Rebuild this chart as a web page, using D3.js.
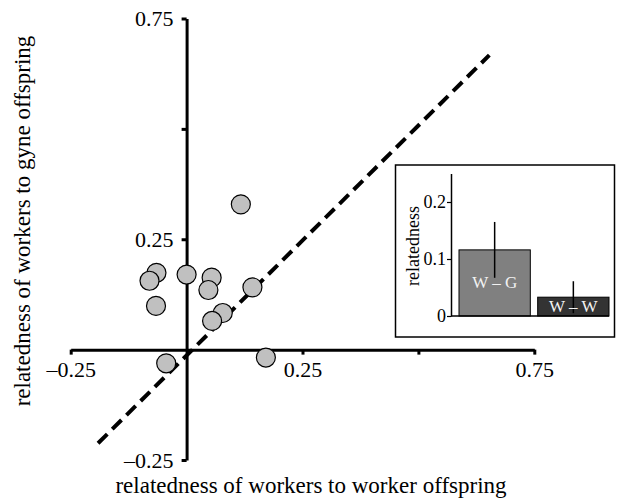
<!DOCTYPE html>
<html><head><meta charset="utf-8">
<script src="https://cdn.jsdelivr.net/npm/d3@7"></script>
<style>body{margin:0;background:#fff}svg{display:block}text{font-family:"Liberation Serif","Times New Roman",Times,serif;fill:#000}</style>
</head><body><svg id="c" width="622" height="503"></svg>
<script>
// scatter: relatedness of workers to worker offspring (x) vs to gyne offspring (y)
const pointX = [0.117, -0.065, -0.080, 0.000, 0.054, 0.047, -0.066, 0.142, 0.078, 0.055, 0.171, -0.044];
const pointY = [0.329, 0.174, 0.156, 0.170, 0.163, 0.135, 0.099, 0.141, 0.083, 0.065, -0.018, -0.031];
const refLineX = [-0.191, 0.653];
const refLineY = [-0.212, 0.667];
const xTicks = [-0.25, 0.25, 0.5, 0.75];
const yTicks = [-0.25, 0.25, 0.5, 0.75];
const labeledTicks = [-0.25, 0.25, 0.75];
// inset bar chart
const barCats = ["W – G", "W – W"];
const barVals = [0.116, 0.033];
const barErrLo = [0.067, 0.005];
const barErrHi = [0.165, 0.061];
const barColors = ["#808080", "#333333"];
const insetTicks = [0, 0.1, 0.2];

const svg = d3.select("#c");
const x = d3.scaleLinear([-0.25, 0.75], [70.7, 534.3]);
const y = d3.scaleLinear([-0.25, 0.75], [460, 18.5]);
const fmt = v => labeledTicks.includes(v) ? (v < 0 ? "–" + Math.abs(v) : String(v)) : "";

// x axis
const gx = svg.append("g").attr("transform", `translate(0,${y(0)})`)
  .call(d3.axisBottom(x).tickValues(xTicks).tickFormat(fmt).tickSize(5).tickSizeOuter(0).tickPadding(7));
// y axis
const gy = svg.append("g").attr("transform", `translate(${x(0)},0)`)
  .call(d3.axisLeft(y).tickValues(yTicks).tickFormat(fmt).tickSize(5).tickSizeOuter(0).tickPadding(8));
[gx, gy].forEach(g => {
  g.attr("font-family", null);
  g.select(".domain").attr("stroke", "#000").attr("stroke-width", 3);
  g.selectAll(".tick line").attr("stroke", "#000").attr("stroke-width", 3);
  g.selectAll(".tick text").attr("font-size", 22).attr("fill", "#000");
});

// dashed reference line
svg.append("line")
  .attr("x1", x(refLineX[0])).attr("y1", y(refLineY[0]))
  .attr("x2", x(refLineX[1])).attr("y2", y(refLineY[1]))
  .attr("stroke", "#000").attr("stroke-width", 4).attr("stroke-dasharray", "13,7");

// points
svg.append("g").selectAll("circle").data(pointX.map((v, i) => [v, pointY[i]])).join("circle")
  .attr("cx", d => x(d[0])).attr("cy", d => y(d[1])).attr("r", 9.5)
  .attr("fill", "#c0c0c0").attr("stroke", "#000").attr("stroke-width", 1.2);

// axis titles
svg.append("text").attr("x", 311).attr("y", 493).attr("text-anchor", "middle").attr("font-size", 23)
  .text("relatedness of workers to worker offspring");
svg.append("text").attr("transform", "translate(30,221) rotate(-90)").attr("text-anchor", "middle").attr("font-size", 23)
  .text("relatedness of workers to gyne offspring");

// inset
const inset = svg.append("g");
inset.append("rect").attr("x", 395.5).attr("y", 165).attr("width", 219).attr("height", 172)
  .attr("fill", "#fff").attr("stroke", "#000").attr("stroke-width", 1.5);
const yi = d3.scaleLinear([0, 0.25], [316, 173.5]);
const xi = d3.scaleBand(barCats, [459, 609]).paddingInner(0.094).paddingOuter(0);
inset.selectAll("rect.bar").data(barCats).join("rect").attr("class", "bar")
  .attr("x", d => xi(d)).attr("width", xi.bandwidth())
  .attr("y", (d, i) => yi(barVals[i])).attr("height", (d, i) => yi(0) - yi(barVals[i]))
  .attr("fill", (d, i) => barColors[i]).attr("stroke", "#000").attr("stroke-width", 1);
inset.selectAll("line.err").data(barCats).join("line").attr("class", "err")
  .attr("x1", d => xi(d) + xi.bandwidth() / 2).attr("x2", d => xi(d) + xi.bandwidth() / 2)
  .attr("y1", (d, i) => yi(barErrLo[i])).attr("y2", (d, i) => yi(barErrHi[i]))
  .attr("stroke", "#000").attr("stroke-width", 1.5);
inset.selectAll("text.lab").data(barCats).join("text").attr("class", "lab")
  .attr("x", d => xi(d) + xi.bandwidth() / 2)
  .attr("y", (d, i) => (yi(barVals[i]) + yi(0)) / 2 + 5.5)
  .attr("text-anchor", "middle").attr("font-size", 17).style("fill", "#f2f2f2").text(d => d);
// baseline
inset.append("line").attr("x1", 451).attr("x2", 609).attr("y1", yi(0)).attr("y2", yi(0))
  .attr("stroke", "#000").attr("stroke-width", 1.5);
const gi = inset.append("g").attr("transform", "translate(451,0)")
  .call(d3.axisLeft(yi).tickValues(insetTicks).tickFormat(d => d === 0 ? "0" : d3.format(".1f")(d)).tickSize(4).tickSizeOuter(0).tickPadding(1));
gi.attr("font-family", null);
gi.select(".domain").attr("stroke", "#000").attr("stroke-width", 1.5);
gi.selectAll(".tick line").attr("stroke", "#000").attr("stroke-width", 1.2);
gi.selectAll(".tick text").attr("font-size", 18).attr("fill", "#000");
inset.append("text").attr("transform", "translate(419,246) rotate(-90)").attr("text-anchor", "middle").attr("font-size", 18)
  .text("relatedness");
</script></body></html>
